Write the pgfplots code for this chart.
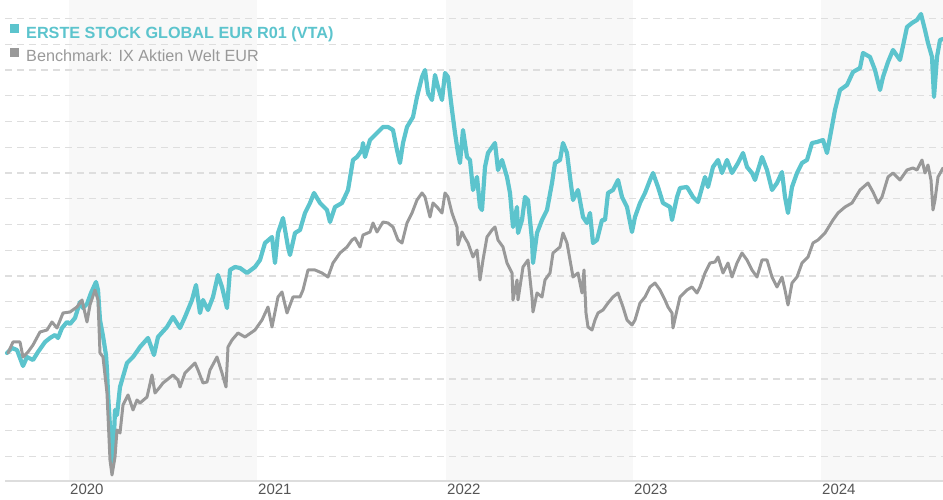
\documentclass[border=0pt]{standalone}
\usepackage{pgfplots}
\pgfplotsset{compat=1.18}
\usepackage{fontspec}
\setmainfont{Liberation Sans}
\definecolor{fund}{HTML}{5CC4CD}
\definecolor{bench}{HTML}{999999}
\definecolor{band}{HTML}{F8F8F8}
\definecolor{gridc}{HTML}{DEDEDE}
\definecolor{axisc}{HTML}{DDDDDD}
\definecolor{yearc}{HTML}{555555}
\begin{document}
\begin{tikzpicture}
\begin{axis}[
  set layers,
  scale only axis, width=938pt, height=481pt,
  at={(5pt,19pt)}, anchor=south west,
  xmin=5, xmax=943, ymin=19, ymax=500,
  axis line style={draw=none},
  clip=false,
  xtick={69,257,446,633,821},
  xticklabels={2020,2021,2022,2023,2024},
  xticklabel style={anchor=north west, font=\fontsize{15}{18}\selectfont, text=yearc, inner sep=0pt, xshift=1pt, yshift=-3pt},
  major tick length=0pt,
  ytick={43.75,69.5,95.25,121,146.75,172.5,198.25,224,249.75,275.5,301.25,327,352.75,378.5,404.25,430,455.75,481.5},
  yticklabels={},
  ymajorgrids,
  major grid style={gridc, line width=1.3pt, dash pattern=on 7pt off 5pt},
  legend image code/.code={\fill[#1, draw=none] (0pt,0pt) rectangle (9pt,9pt);},
  legend cell align=left,
  legend style={at={(axis description cs:0,1)}, anchor=north west, xshift=5pt, yshift=-24pt,
    draw=none, fill=none, inner sep=0pt, row sep=8pt, column sep=7pt,
    nodes={inner sep=0pt}, font=\fontsize{16.2}{19}\selectfont},
]
\begin{pgfonlayer}{axis background}
\fill[band] (axis cs:69,19) rectangle (axis cs:257,500);
\fill[band] (axis cs:446,19) rectangle (axis cs:633,500);
\fill[band] (axis cs:821,19) rectangle (axis cs:943,500);
\end{pgfonlayer}
\draw[axisc, line width=2pt] (axis cs:5,19) -- (axis cs:943,19);

\addplot[color=fund, line width=4.2pt, line join=round, line cap=round] table {
x y
7 147
12 152
17 150
23 134
27 143
33 140
38 148
45 158
50 162
55 165
58 162
62 172
67 178
70 176
75 182
80 198
83 192
87 196
91 207
96 218
98 210
100 180
103 164
106 145
107 130
108 107
110 73
113 38
115 90
117 85
120 113
127 137
133 143
138 150
140 153
148 162
154 145
158 163
167 173
173 183
180 172
185 183
192 200
196 215
200 187
203 200
208 190
213 203
218 225
222 213
227 192
230 230
235 233
240 232
247 227
255 233
260 240
265 257
272 263
275 237
278 267
283 282
288 253
290 245
295 267
300 270
305 287
310 297
314 307
320 297
327 290
330 278
335 293
342 297
348 310
353 340
357 343
362 350
363 357
365 343
370 360
377 367
383 373
388 373
393 370
397 350
400 337
403 357
407 373
413 383
417 403
422 423
425 430
428 407
432 400
435 425
438 413
442 400
445 427
448 423
452 390
455 367
458 347
460 337
463 370
467 343
470 340
473 310
477 323
480 293
482 290
485 333
488 347
495 357
498 330
502 340
507 323
510 307
513 273
517 293
518 267
522 280
525 303
528 300
532 260
533 237
537 267
542 280
547 290
552 317
555 337
560 340
563 357
567 347
570 323
573 300
578 310
583 283
587 277
590 287
593 257
597 260
602 280
605 280
608 307
613 310
618 320
622 303
627 293
632 268
635 283
640 297
645 307
650 320
653 327
658 313
663 297
670 293
672 280
677 303
680 312
687 313
693 303
698 298
705 323
708 313
713 333
718 340
722 327
727 340
732 327
738 337
743 347
747 333
752 327
755 320
762 343
767 330
772 310
777 317
782 328
785 303
788 287
792 313
797 327
802 337
807 340
812 357
817 358
823 360
827 347
830 363
835 390
840 410
847 415
853 428
860 432
863 447
870 443
875 430
880 410
883 423
888 438
893 450
900 440
907 473
912 477
917 480
921 486
925 470
928 457
932 443
934 403
937 443
940 460
943 461
};
\addlegendentry{\textcolor{fund}{\bfseries ERSTE STOCK GLOBAL EUR R01 (VTA)}}

\addplot[color=bench, line width=3pt, line join=round, line cap=round] table {
x y
8 147
13 158
20 158
23 143
28 148
33 155
40 168
47 170
52 178
57 172
63 187
70 188
77 193
82 200
87 178
90 195
95 210
98 200
100 147
103 143
107 107
110 40
112 25
115 43
117 70
120 67
123 95
128 105
133 90
137 100
140 97
147 103
152 125
155 107
160 113
163 117
173 125
178 120
180 113
185 127
195 137
198 130
203 117
207 118
210 130
217 143
222 127
226 113
228 153
232 160
238 167
245 163
255 170
262 180
268 193
272 173
278 203
282 208
287 187
293 203
300 203
303 210
308 230
315 230
322 227
328 223
333 237
340 247
347 253
352 260
355 262
360 253
363 265
370 268
373 277
377 268
383 278
388 277
393 273
398 260
402 257
407 277
412 287
417 300
422 307
425 303
430 283
433 297
437 293
442 287
445 307
448 303
452 287
457 273
458 255
462 268
465 262
468 257
473 243
477 250
480 220
483 240
487 263
492 270
495 273
498 260
503 253
507 237
512 227
513 200
517 220
518 200
523 233
528 240
532 203
533 188
537 207
542 203
545 220
550 227
553 247
560 253
563 267
567 257
570 240
573 223
578 227
582 207
584 230
586 187
588 173
592 170
595 180
598 187
603 190
608 197
613 203
618 207
623 193
627 180
632 175
635 180
640 197
645 203
650 213
655 217
660 210
665 200
668 193
672 187
673 172
677 190
680 203
687 210
692 213
697 207
700 213
705 227
710 237
715 238
718 243
723 227
728 237
732 223
737 237
742 247
747 240
752 230
757 223
762 240
767 240
772 223
777 213
782 223
785 210
788 195
792 217
797 223
802 237
808 243
813 257
818 260
825 267
833 280
838 287
845 293
852 297
860 310
868 317
873 308
878 297
882 303
888 323
893 327
900 320
907 330
913 332
917 330
922 340
925 327
928 335
931 320
933 290
935 300
938 323
943 332
};
\addlegendentry{\textcolor{bench}{Benchmark: IX Aktien Welt EUR}}
\end{axis}
\pgfresetboundingbox
\useasboundingbox (0pt,0pt) rectangle (943pt,500pt);
\end{tikzpicture}
\end{document}
